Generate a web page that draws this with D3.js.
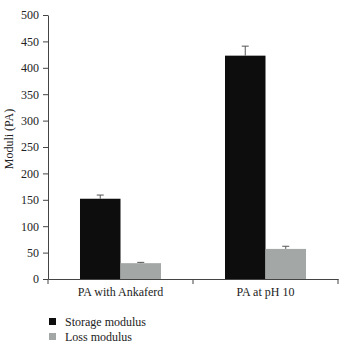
<!DOCTYPE html>
<html><head><meta charset="utf-8">
<script src="https://cdn.jsdelivr.net/npm/d3@7"></script>
<style>body{margin:0;background:#fff}svg{display:block}text{font-family:"Liberation Serif","DejaVu Serif",serif}</style>
</head><body>
<script>
const categories = ["PA with Ankaferd", "PA at pH 10"];
const seriesNames = ["Storage modulus", "Loss modulus"];
const storage = [152, 423];
const storageErr = [7, 18];
const loss = [30, 57];
const lossErr = [1.5, 5];
const yTicks = [0, 50, 100, 150, 200, 250, 300, 350, 400, 450, 500];
const colors = ["#0d0d0d", "#a3a8a6"];

const W = 346, H = 346;
const m = {left: 48, right: 8, top: 15, bottom: 67};
const svg = d3.select("body").append("svg").attr("width", W).attr("height", H);
const font = "Liberation Serif, DejaVu Serif, serif";

const x0 = d3.scaleBand().domain(categories).range([m.left, 338]).paddingInner(0).paddingOuter(0);
const x1 = d3.scaleBand().domain(seriesNames).range([0, x0.bandwidth()]).paddingInner(0).paddingOuter(0.79);
const y = d3.scaleLinear().domain([0, 500]).range([H - m.bottom, m.top]);

const data = categories.map((c, i) => ({
  cat: c,
  vals: [
    {s: seriesNames[0], v: storage[i], e: storageErr[i], c: colors[0]},
    {s: seriesNames[1], v: loss[i], e: lossErr[i], c: colors[1]}
  ]
}));

const g = svg.selectAll("g.cat").data(data).enter().append("g")
  .attr("transform", d => `translate(${x0(d.cat)},0)`);
g.selectAll("rect").data(d => d.vals).enter().append("rect")
  .attr("x", d => x1(d.s)).attr("width", x1.bandwidth())
  .attr("y", d => y(d.v)).attr("height", d => y(0) - y(d.v))
  .attr("fill", d => d.c);
g.selectAll("line.err").data(d => d.vals).enter().append("line")
  .attr("x1", d => x1(d.s) + x1.bandwidth()/2).attr("x2", d => x1(d.s) + x1.bandwidth()/2)
  .attr("y1", d => y(d.v)).attr("y2", d => y(d.v + d.e))
  .attr("stroke", "#555").attr("stroke-width", 1);
g.selectAll("line.cap").data(d => d.vals).enter().append("line")
  .attr("x1", d => x1(d.s) + x1.bandwidth()/2 - 3.5).attr("x2", d => x1(d.s) + x1.bandwidth()/2 + 3.5)
  .attr("y1", d => y(d.v + d.e)).attr("y2", d => y(d.v + d.e))
  .attr("stroke", "#555").attr("stroke-width", 1);

// y axis
const ya = svg.append("g").attr("transform", `translate(${m.left},0)`)
  .call(d3.axisLeft(y).tickValues(yTicks).tickSize(5).tickPadding(4).tickSizeOuter(0));
ya.attr("font-family", font);
ya.select(".domain").attr("stroke", "#444");
ya.selectAll(".tick line").attr("stroke", "#444");
ya.selectAll("text").style("font-family", font).attr("font-size", 12).attr("fill", "#222");

// x axis
const xa = svg.append("g").attr("transform", `translate(0,${y(0)})`)
  .call(d3.axisBottom(x0).tickSize(0).tickPadding(8));
xa.attr("font-family", font);
xa.select(".domain").attr("stroke", "#444");
xa.selectAll("text").style("font-family", font).attr("font-size", 12).attr("fill", "#222");
const bounds = [m.left, x0(categories[1]), 338];
xa.selectAll("line.sep").data(bounds).enter().append("line").attr("class", "sep")
  .attr("x1", d => d).attr("x2", d => d).attr("y1", 0).attr("y2", 5).attr("stroke", "#444");

// y label
svg.append("text").attr("transform", `translate(13,${(y(0)+y(500))/2 - 8}) rotate(-90)`)
  .attr("text-anchor", "middle").style("font-family", font).attr("font-size", 12).attr("fill", "#222")
  .text("Moduli (PA)");

// legend
const lg = svg.append("g").attr("transform", "translate(49,318)");
const li = lg.selectAll("g").data(seriesNames).enter().append("g")
  .attr("transform", (d, i) => `translate(0,${i * 15})`);
li.append("rect").attr("width", 7).attr("height", 7).attr("y", 0).attr("fill", (d, i) => colors[i]);
li.append("text").attr("x", 16).attr("y", 7.5).style("font-family", font).attr("font-size", 12).attr("fill", "#222").text(d => d);
</script>
</body></html>
